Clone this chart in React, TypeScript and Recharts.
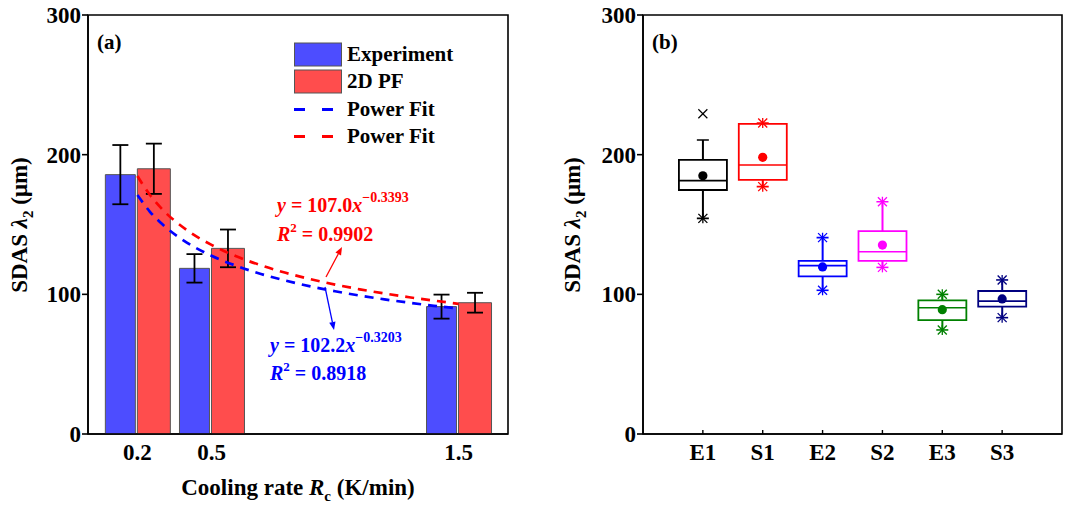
import React from 'react';
import {
  ComposedChart, Bar, Line, XAxis, YAxis, ErrorBar, Scatter, ReferenceArea, Legend, Cell,
} from 'recharts';

// ---- panel (a): SDAS vs cooling rate ----
const rates = [0.2, 0.5, 1.5];
const expSdas = [185.7, 118.6, 91.2];
const expErr = [21.2, 10.2, 8.6];
const pfSdas = [189.9, 132.9, 94.0];
const pfErr = [18.0, 13.5, 7.1];

// power-fit curves
const fitX = [0.2, 0.25, 0.3, 0.4, 0.5, 0.6, 0.7, 0.8, 0.9, 1.0, 1.1, 1.2, 1.3, 1.4, 1.5];
const fitExp = [171.1, 159.3, 150.3, 137.1, 127.6, 120.4, 114.6, 109.8, 105.7, 102.2, 99.1, 96.4, 94.0, 91.8, 89.8];
const fitPf = [184.7, 171.3, 161.0, 146.0, 135.4, 127.2, 120.8, 115.4, 110.9, 107.0, 103.6, 100.6, 97.9, 95.5, 93.2];

const yTicks = [0, 100, 200, 300];

// ---- panel (b): box plots ----
const groups = ['E1', 'S1', 'E2', 'S2', 'E3', 'S3'];
const q1 = [174.7, 181.9, 112.9, 123.9, 81.6, 91.2];
const q3 = [196.2, 222.0, 123.9, 145.3, 95.7, 102.4];
const median = [181.4, 192.6, 120.5, 130.5, 90.4, 95.2];
const mean = [184.9, 198.1, 119.6, 135.3, 89.0, 96.7];
const whiskerLo = [154.4, 177.1, 102.9, 119.3, 74.5, 83.3];
const whiskerHi = [210.5, 222.7, 140.6, 166.3, 100.0, 110.3];
const hiStar = [false, true, true, true, true, true];
const maxMark = [229.3, null, null, null, null, null];
const boxColors = ['#000000', '#ff0000', '#0000ff', '#ff00ff', '#008000', '#000080'];

const FONT = '"Liberation Serif", "Times New Roman", serif';
const BOX_W = 48;
const tickStyle = { fontFamily: FONT, fontSize: 23, fontWeight: 'bold', fill: '#000' };
const axisLine = { stroke: '#000', strokeWidth: 1.6 };

const barRows = rates.map((x, i) => ({ x, exp: expSdas[i], expErr: expErr[i], pf: pfSdas[i], pfErr: pfErr[i] }));
const fitExpRows = fitX.map((x, i) => ({ x, fitExp: fitExp[i] }));
const fitPfRows = fitX.map((x, i) => ({ x, fitPf: fitPf[i] }));

const boxRows = groups.map((name, i) => ({
  x: i + 1,
  name,
  color: boxColors[i],
  base: q1[i],
  iqr: q3[i] - q1[i],
  wBase: whiskerLo[i],
  wLow: q1[i] - whiskerLo[i],
  wGap: q3[i] - q1[i],
  wHigh: whiskerHi[i] - q3[i],
  median: median[i],
  mean: mean[i],
  lo: whiskerLo[i],
  hi: whiskerHi[i],
  hiStar: hiStar[i],
  max: maxMark[i],
}));

const legendOrder = ['exp', 'pf', 'fitExp', 'fitPf'];

function FitLegend(props: any) {
  const items = [...(props.payload || [])].sort(
    (a: any, b: any) => legendOrder.indexOf(a.dataKey) - legendOrder.indexOf(b.dataKey),
  );
  return (
    <div style={{ fontFamily: FONT, fontWeight: 'bold', fontSize: 21, color: '#000' }}>
      {items.map((it: any, i: number) => (
        <div key={i} style={{ display: 'flex', alignItems: 'center', height: 27.3 }}>
          <svg width={53} height={27}>
            {it.type === 'line' ? (
              <line x1={0} y1={13.5} x2={48} y2={13.5} stroke={it.color} strokeWidth={3} strokeDasharray="11 17" />
            ) : (
              <rect x={0.5} y={2} width={47} height={23} fill={it.color} stroke="#555" strokeWidth={1} />
            )}
          </svg>
          <span style={{ lineHeight: '27px' }}>{it.value}</span>
        </div>
      ))}
    </div>
  );
}

function Asterisk({ cx, cy, color, cap }: any) {
  const r = 4.5;
  return (
    <g stroke={color} strokeWidth={1.3}>
      <line x1={cx - r} y1={cy - r} x2={cx + r} y2={cy + r} />
      <line x1={cx - r} y1={cy + r} x2={cx + r} y2={cy - r} />
      <line x1={cx} y1={cy - r - 0.5} x2={cx} y2={cy + r + 0.5} />
      {cap && <line x1={cx - 6} y1={cy} x2={cx + 6} y2={cy} strokeWidth={1.6} />}
    </g>
  );
}

const MedianShape = (p: any) => (
  <line x1={p.cx - BOX_W / 2} x2={p.cx + BOX_W / 2} y1={p.cy} y2={p.cy} stroke={p.payload.color} strokeWidth={1.7} />
);
const MeanShape = (p: any) => <circle cx={p.cx} cy={p.cy} r={4.6} fill={p.payload.color} />;
const LoShape = (p: any) => <Asterisk cx={p.cx} cy={p.cy} color={p.payload.color} cap />;
const HiShape = (p: any) =>
  p.payload.hiStar ? (
    <Asterisk cx={p.cx} cy={p.cy} color={p.payload.color} cap />
  ) : (
    <line x1={p.cx - 6} y1={p.cy} x2={p.cx + 6} y2={p.cy} stroke={p.payload.color} strokeWidth={1.7} />
  );
const MaxShape = (p: any) => (
  <g stroke={p.payload.color} strokeWidth={1.2}>
    <line x1={p.cx - 4.5} y1={p.cy - 4.5} x2={p.cx + 4.5} y2={p.cy + 4.5} />
    <line x1={p.cx - 4.5} y1={p.cy + 4.5} x2={p.cx + 4.5} y2={p.cy - 4.5} />
  </g>
);

function PanelA() {
  return (
    <ComposedChart width={540} height={507} data={barRows} barGap={2}
      margin={{ top: 15, right: 32, bottom: 0, left: 0 }}>
      <XAxis
        type="number"
        dataKey="x"
        domain={[0, 1.7]}
        ticks={rates}
        allowDataOverflow
        tickLine={false}
        axisLine={axisLine}
        tick={tickStyle}
        tickMargin={4}
        height={73}
      />
      <XAxis xAxisId="fit" type="number" dataKey="x" domain={[0, 1.7]} allowDataOverflow hide />
      <YAxis
        domain={[0, 300]}
        ticks={yTicks}
        allowDataOverflow
        tick={tickStyle}
        tickSize={6}
        tickMargin={1}
        tickLine={{ stroke: '#000', strokeWidth: 1.6 }}
        axisLine={axisLine}
        width={88}
      />
      <ReferenceArea x1={0} x2={1.7} y1={0} y2={300} fill="none" stroke="#000" strokeWidth={1.6} />
      <Bar dataKey="exp" name="Experiment" fill="#4d4dff" stroke="#555" strokeWidth={1} barSize={30} isAnimationActive={false}>
        <ErrorBar dataKey="expErr" width={8} stroke="#000" strokeWidth={1.8} direction="y" />
      </Bar>
      <Bar dataKey="pf" name="2D PF" fill="#ff4d4d" stroke="#555" strokeWidth={1} barSize={33} isAnimationActive={false}>
        <ErrorBar dataKey="pfErr" width={8} stroke="#000" strokeWidth={1.8} direction="y" />
      </Bar>
      <Line xAxisId="fit" data={fitExpRows} dataKey="fitExp" name="Power Fit" type="monotone" stroke="#0000ff"
        strokeWidth={2.7} strokeDasharray="9 7" dot={false} isAnimationActive={false} />
      <Line xAxisId="fit" data={fitPfRows} dataKey="fitPf" name="Power Fit" type="monotone" stroke="#ff0000"
        strokeWidth={2.7} strokeDasharray="9 7" dot={false} isAnimationActive={false} />
      <Legend
        layout="vertical"
        align="center"
        verticalAlign="middle"
        content={<FitLegend />}
        wrapperStyle={{ left: 294, top: 41, width: 200, height: 112 }}
      />
    </ComposedChart>
  );
}

function PanelB() {
  const ticks = boxRows.map((r) => r.x);
  return (
    <ComposedChart width={533} height={507} data={boxRows} margin={{ top: 15, right: 11, bottom: 0, left: 0 }}>
      <XAxis
        xAxisId="box"
        type="number"
        dataKey="x"
        domain={[0, 7]}
        ticks={ticks}
        tickFormatter={(v: number) => groups[v - 1]}
        tick={tickStyle}
        tickSize={-4}
        tickMargin={14}
        tickLine={{ stroke: '#000', strokeWidth: 1.4 }}
        axisLine={axisLine}
        height={73}
      />
      <XAxis xAxisId="wsk" type="number" dataKey="x" domain={[0, 7]} ticks={ticks} hide />
      <YAxis
        domain={[0, 300]}
        ticks={yTicks}
        allowDataOverflow
        tick={tickStyle}
        tickSize={6}
        tickMargin={1}
        tickLine={{ stroke: '#000', strokeWidth: 1.6 }}
        axisLine={axisLine}
        width={103}
      />
      <ReferenceArea xAxisId="box" x1={0} x2={7} y1={0} y2={300} fill="none" stroke="#000" strokeWidth={1.6} />
      <Bar xAxisId="wsk" dataKey="wBase" stackId="w" fill="transparent" barSize={2} isAnimationActive={false} />
      <Bar xAxisId="wsk" dataKey="wLow" stackId="w" barSize={2} isAnimationActive={false}>
        {boxRows.map((r) => <Cell key={r.name} fill={r.color} />)}
      </Bar>
      <Bar xAxisId="wsk" dataKey="wGap" stackId="w" fill="transparent" barSize={2} isAnimationActive={false} />
      <Bar xAxisId="wsk" dataKey="wHigh" stackId="w" barSize={2} isAnimationActive={false}>
        {boxRows.map((r) => <Cell key={r.name} fill={r.color} />)}
      </Bar>
      <Bar xAxisId="box" dataKey="base" stackId="b" fill="transparent" barSize={BOX_W} isAnimationActive={false} />
      <Bar xAxisId="box" dataKey="iqr" stackId="b" fill="none" barSize={BOX_W} isAnimationActive={false}>
        {boxRows.map((r) => <Cell key={r.name} fill="none" stroke={r.color} strokeWidth={1.8} />)}
      </Bar>
      <Scatter xAxisId="box" dataKey="median" shape={MedianShape} isAnimationActive={false} />
      <Scatter xAxisId="box" dataKey="lo" shape={LoShape} isAnimationActive={false} />
      <Scatter xAxisId="box" dataKey="hi" shape={HiShape} isAnimationActive={false} />
      <Scatter xAxisId="box" data={boxRows.filter((r) => r.max != null)} dataKey="max" shape={MaxShape} isAnimationActive={false} />
      <Scatter xAxisId="box" dataKey="mean" shape={MeanShape} isAnimationActive={false} />
    </ComposedChart>
  );
}

function Arrow({ x1, y1, x2, y2, color }: any) {
  const dx = x2 - x1;
  const dy = y2 - y1;
  const len = Math.hypot(dx, dy);
  const ux = dx / len;
  const uy = dy / len;
  const hl = 8;
  const hw = 3.2;
  const bx = x2 - ux * hl;
  const by = y2 - uy * hl;
  return (
    <g>
      <line x1={x1} y1={y1} x2={bx} y2={by} stroke={color} strokeWidth={1.3} />
      <polygon points={`${x2},${y2} ${bx - uy * hw},${by + ux * hw} ${bx + uy * hw},${by - ux * hw}`} fill={color} />
    </g>
  );
}

function Overlay() {
  const t = { fontFamily: FONT, fontWeight: 'bold' as const };
  return (
    <svg width={1073} height={507} style={{ position: 'absolute', left: 0, top: 0, pointerEvents: 'none' }}>
      {/* panel labels */}
      <text x={97} y={49} fontSize={21} {...t}>(a)</text>
      <text x={652} y={49} fontSize={21} {...t}>(b)</text>

      {/* axis titles */}
      <text transform="translate(27,225) rotate(-90)" textAnchor="middle" fontSize={23} {...t}>
        SDAS <tspan fontStyle="italic">λ</tspan><tspan fontSize={15} dy={6}>2</tspan><tspan dy={-6}> (μm)</tspan>
      </text>
      <text transform="translate(580,225) rotate(-90)" textAnchor="middle" fontSize={23} {...t}>
        SDAS <tspan fontStyle="italic">λ</tspan><tspan fontSize={15} dy={6}>2</tspan><tspan dy={-6}> (μm)</tspan>
      </text>
      <text x={298} y={495} textAnchor="middle" fontSize={23} {...t}>
        Cooling rate <tspan fontStyle="italic">R</tspan><tspan fontSize={15} dy={6}>c</tspan><tspan dy={-6}> (K/min)</tspan>
      </text>

      {/* fit annotations */}
      <text x={277} y={212} fontSize={20} fill="#ff0000" {...t}>
        <tspan fontStyle="italic">y</tspan> = 107.0<tspan fontStyle="italic">x</tspan>
        <tspan fontSize={14} dy={-10}>−0.3393</tspan>
      </text>
      <text x={277} y={241} fontSize={20} fill="#ff0000" {...t}>
        <tspan fontStyle="italic">R</tspan><tspan fontSize={13} dy={-9}>2</tspan><tspan dy={9}> = 0.9902</tspan>
      </text>
      <text x={270} y={352} fontSize={20} fill="#0000ff" {...t}>
        <tspan fontStyle="italic">y</tspan> = 102.2<tspan fontStyle="italic">x</tspan>
        <tspan fontSize={14} dy={-10}>−0.3203</tspan>
      </text>
      <text x={270} y={380} fontSize={20} fill="#0000ff" {...t}>
        <tspan fontStyle="italic">R</tspan><tspan fontSize={13} dy={-9}>2</tspan><tspan dy={9}> = 0.8918</tspan>
      </text>
      <Arrow x1={326} y1={277} x2={342} y2={247} color="#ff0000" />
      <Arrow x1={325} y1={287} x2={334} y2={330} color="#0000ff" />
    </svg>
  );
}

export default function App() {
  return (
    <div style={{ position: 'absolute', left: 0, top: 0, width: 1073, height: 507, background: '#fff', fontFamily: FONT }}>
      <div style={{ position: 'absolute', left: 0, top: 0 }}>
        <PanelA />
      </div>
      <div style={{ position: 'absolute', left: 540, top: 0 }}>
        <PanelB />
      </div>
      <Overlay />
    </div>
  );
}
